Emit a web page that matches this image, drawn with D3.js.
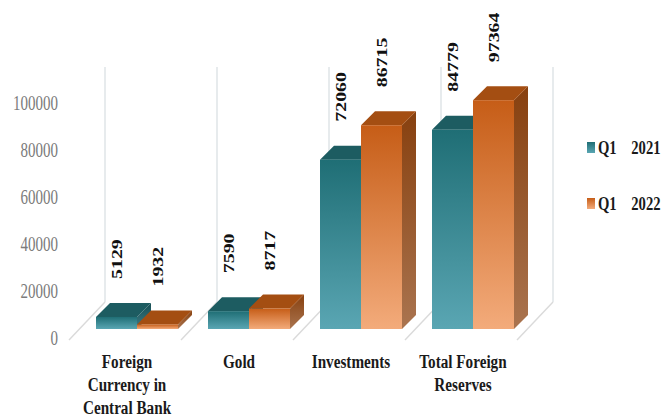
<!DOCTYPE html>
<html>
<head>
<meta charset="utf-8">
<script src="https://cdn.jsdelivr.net/npm/d3@7/dist/d3.min.js"></script>
<style>
html,body{margin:0;padding:0;background:#fff;overflow:hidden}
text{font-family:"Liberation Serif",serif}
</style>
</head>
<body>
<svg id="chart" width="662" height="418"></svg>
<script>
// Foreign reserves by component, first quarters of 2021 and 2022
const categories = ["Foreign Currency in Central Bank", "Gold", "Investments", "Total Foreign Reserves"];
const categoryLines = [["Foreign", "Currency in", "Central Bank"], ["Gold"], ["Investments"], ["Total Foreign", "Reserves"]];
const seriesNames = ["Q1\u00a0\u00a0\u00a0\u00a02021", "Q1\u00a0\u00a0\u00a0\u00a02022"];
const q1_2021 = [5129, 7590, 72060, 84779];
const q1_2022 = [1932, 8717, 86715, 97364];
const tickValues = [0, 20000, 40000, 60000, 80000, 100000];

const palette = [
  {front0:"#1f6e75", front1:"#5aa6b3", top:"#1d5c61", side0:"#164e53", side1:"#3f7d87"},
  {front0:"#c65d17", front1:"#f3ab7b", top:"#a44e12", side0:"#87400f", side1:"#aa744f"}
];

const svg = d3.select("#chart");
const depth = 14;
const wallDepth = 36;

const x = d3.scaleBand().domain(categories).range([81, 529]);
const inner = d3.scaleBand().domain([0, 1]).range([-41, 41]);
const y = d3.scaleLinear().domain([0, 100000]).range([329, 94]);
const center = c => x(c) + x.bandwidth() / 2;

// Gradients for the front and side faces of each series
const defs = svg.append("defs");
palette.forEach((p, i) => {
  [["front", p.front0, p.front1], ["side", p.side0, p.side1]].forEach(([name, a, b]) => {
    const g = defs.append("linearGradient")
      .attr("id", name + i).attr("x1", 0).attr("y1", 0).attr("x2", 0).attr("y2", 1);
    g.append("stop").attr("offset", "0%").attr("stop-color", a);
    g.append("stop").attr("offset", "100%").attr("stop-color", b);
  });
});

// Wall and floor dividers between categories
const boundaries = categories.map(c => x(c) - 12).concat([x(categories[3]) + x.bandwidth() - 12]);
const frame = svg.append("g").attr("fill", "none").attr("stroke-width", 1.4);
frame.selectAll(".wall").data(boundaries).join("line")
  .attr("class", "wall")
  .attr("x1", d => d + wallDepth).attr("x2", d => d + wallDepth)
  .attr("y1", y(0) - 27).attr("y2", y(100000) - 27)
  .attr("stroke", "#dde3e6");
frame.selectAll(".floor").data(boundaries).join("line")
  .attr("class", "floor")
  .attr("x1", d => d).attr("x2", d => d + wallDepth)
  .attr("y1", y(0) + 11).attr("y2", y(0) - 27)
  .attr("stroke", "#dadada");

// Value axis, set slightly below the front of the bars
const axis = svg.append("g")
  .attr("transform", `translate(58,${y(0) + 9})`)
  .call(d3.axisLeft(y.copy().range([0, y(100000) - y(0)])).tickValues(tickValues).tickSize(0).tickPadding(0).tickFormat(d3.format("d")));
axis.select(".domain").remove();
axis.selectAll("text")
  .attr("x", 0).attr("dy", "0.33em")
  .attr("font-size", 20).attr("fill", "#7b7b7b")
  .style("font-family", '"Liberation Serif",serif')
  .attr("transform", "scale(0.75,1)");

// One 3D bar per category and series, left series first
[q1_2021, q1_2022].forEach((values, s) => {
  const g = svg.append("g");
  const bars = g.selectAll("g").data(categories.map((c, i) => ({c, v: values[i]}))).join("g");
  const left = d => center(d.c) + inner(s);
  const right = d => left(d) + inner.bandwidth();
  bars.append("polygon")
    .attr("fill", `url(#side${s})`)
    .attr("points", d => [[right(d), y(d.v)], [right(d) + depth, y(d.v) - depth], [right(d) + depth, y(0) - depth], [right(d), y(0)]].join(" "));
  bars.append("polygon")
    .attr("fill", palette[s].top)
    .attr("points", d => [[left(d), y(d.v)], [left(d) + depth, y(d.v) - depth], [right(d) + depth, y(d.v) - depth], [right(d), y(d.v)]].join(" "));
  bars.append("rect")
    .attr("x", left).attr("y", d => y(d.v))
    .attr("width", inner.bandwidth()).attr("height", d => y(0) - y(d.v))
    .attr("fill", `url(#front${s})`);
});

// Rotated value labels above each bar
[q1_2021, q1_2022].forEach((values, s) => {
  svg.append("g").selectAll("text").data(values).join("text")
    .attr("transform", (v, i) => `translate(${center(categories[i]) + inner(s) + inner.bandwidth() / 2 + 5},${y(v) - 38}) rotate(-90) scale(1.28,1)`)
    .attr("font-size", 15.5).attr("font-weight", 700).attr("fill", "#111")
    .text(v => v);
});

// Category names under the floor
const labels = svg.append("g").selectAll("g").data(categories).join("g")
  .attr("transform", c => `translate(${center(c) - 10},0) scale(0.8,1)`);
labels.each(function (c, i) {
  d3.select(this).selectAll("text").data(categoryLines[i]).join("text")
    .attr("y", (d, k) => 368 + k * 23)
    .attr("text-anchor", "middle")
    .attr("font-size", 19).attr("font-weight", 700).attr("fill", "#1a1a1a")
    .text(d => d);
});

// Legend on the right
const legend = svg.append("g").selectAll("g").data(seriesNames).join("g")
  .attr("transform", (d, i) => `translate(587,${142 + i * 56})`);
legend.append("rect").attr("width", 8).attr("height", 11)
  .attr("fill", (d, i) => `url(#front${i})`);
legend.append("text")
  .attr("transform", "translate(11,12) scale(0.77,1)")
  .attr("font-size", 19).attr("font-weight", 700).attr("fill", "#1a1a1a")
  .text(d => d);
</script>
</body>
</html>
